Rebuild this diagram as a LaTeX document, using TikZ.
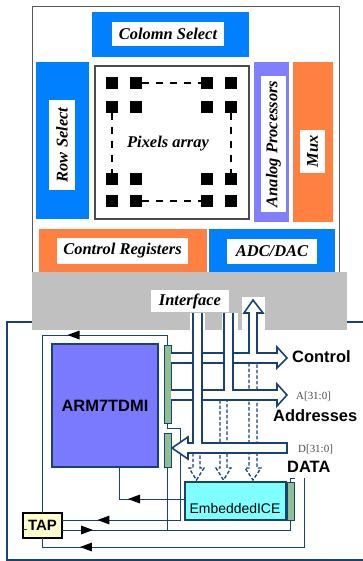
\documentclass[tikz,border=0pt]{standalone}
\usepackage{fontspec}
\setmainfont{Liberation Serif}
\setsansfont{Liberation Sans}
\usetikzlibrary{arrows.meta,decorations.markings}
\definecolor{cblue}{RGB}{0,128,255}
\definecolor{corange}{RGB}{255,128,64}
\definecolor{cpurple}{RGB}{128,128,255}
\definecolor{cgrey}{RGB}{192,192,192}
\definecolor{cnavy}{RGB}{25,66,115}
\definecolor{carm}{RGB}{122,122,255}
\definecolor{cice}{RGB}{128,255,255}
\definecolor{cscan}{RGB}{144,192,144}
\definecolor{ctap}{RGB}{255,255,204}
\tikzset{
  blk/.style={anchor=north west, inner sep=0pt, outer sep=0pt},
  lab/.style={fill=white, inner sep=0pt, outer sep=0pt, font=\fontsize{16.5}{18}\selectfont\bfseries\itshape},
  pix/.style={fill=black, minimum size=12bp, inner sep=0pt, outer sep=0pt},
  pixdash/.style={line width=2bp, dash pattern=on 7bp off 7bp},
  chip/.style={blk, draw=cnavy, line width=1.6bp},
  scan/.style={blk, draw=cnavy, fill=cscan, line width=0.8bp, minimum width=7bp},
  wire/.style={cnavy, line width=1bp},
  bus/.style={draw=cnavy, line width=1.6bp},
  dbus/.style={bus, line width=1.3bp, dash pattern=on 3.5bp off 2bp},
  arrat/.style={postaction={decorate, decoration={markings,
      mark=at position #1 with {\fill[black] (0bp,0bp) -- (-12bp,4.5bp) -- (-12bp,-4.5bp) -- cycle;}}}},
  buslab/.style={anchor=west, inner sep=0pt, font=\sffamily\bfseries\fontsize{16.5}{18}\selectfont},
  sig/.style={anchor=west, inner sep=0pt, text=black!70, font=\fontsize{11}{12}\selectfont},
}

\begin{document}
\begin{tikzpicture}[x=1bp,y=-1bp]
\useasboundingbox (0,0) rectangle (362,561);
% sensor chip
\draw[cnavy, line width=1.3bp] (366,322) -| (7,560) -- (366,560);
\draw[black!65, line width=1bp] (32,275) |- (339,7) -- (339,275);
\node[blk, fill=cblue, minimum width=157bp, minimum height=45bp] (colsel) at (92,12) {};
\node[lab, minimum width=112bp, minimum height=24bp] (colsellab) at (168,34) {Colomn Select};
\node[blk, fill=cblue, minimum width=53bp, minimum height=157bp] (rowsel) at (36,62) {};
\node[lab, rotate=90, minimum width=90bp, minimum height=26bp] (rowsellab) at (62,145) {Row Select};
\node[blk, draw=black!70, line width=1.2bp, minimum width=154bp, minimum height=153bp] (pixarr) at (95,66) {};
\foreach \px in {112,136,207,231}
  \foreach \py in {83,107,179,201}
    \node[pix] (p-\px-\py) at (\px,\py) {};
\draw[pixdash] (p-136-83) -- (p-207-83);
\draw[pixdash] (p-136-201) -- (p-207-201);
\draw[pixdash] (p-112-107) -- (p-112-179);
\draw[pixdash] (p-231-107) -- (p-231-179);
\node[lab, fill=none] (pixlab) at (168,144) {Pixels array};
\node[blk, fill=cpurple, minimum width=35bp, minimum height=160bp] (anproc) at (254,62) {};
\node[lab, rotate=90, minimum width=136bp, minimum height=25bp] (anproclab) at (273.5,144) {Analog Processors};
\node[blk, fill=corange, minimum width=40bp, minimum height=160bp] (mux) at (293,62) {};
\node[lab, rotate=90, minimum width=43bp, minimum height=25bp] (muxlab) at (312.5,151.5) {Mux};
\node[blk, fill=corange, minimum width=168bp, minimum height=43bp] (ctrlreg) at (39,229) {};
\node[lab, minimum width=131bp, minimum height=26bp] (ctrlreglab) at (122.5,251) {Control Registers};
\node[blk, fill=cblue, minimum width=126bp, minimum height=43bp] (adcdac) at (209,229) {};
\node[lab, minimum width=90bp, minimum height=25bp] (adcdaclab) at (272,251.5) {ADC/DAC};
\node[blk, fill=cgrey, minimum width=315bp, minimum height=58bp] (ifbar) at (32,272) {};
\node[lab, minimum width=78bp, minimum height=22bp] (iflab) at (190,301) {Interface};
\fill[white] (190,313) rectangle (205,331);
\fill[white] (222,313) rectangle (238,331);
\fill[white] (242,297) rectangle (265,331);
% processor side
\node[chip, fill=carm, minimum width=106bp, minimum height=123bp,
  font=\sffamily\bfseries\fontsize{16.5}{18}\selectfont] (arm) at (52,344) {ARM7TDMI};
\node[scan, minimum height=78bp] (bar1) at (164,345) {};
\node[scan, minimum height=34bp] (bar2) at (164,433) {};
\node[chip, fill=cice, minimum width=101bp, minimum height=38bp] (ice) at (185,482) {};
\node[inner sep=0pt, font=\sffamily\fontsize{14}{16}\selectfont] (icetxt) at (235,509) {EmbeddedICE};
\node[scan, minimum height=38bp] (icebar) at (287,482) {};
\node[blk, draw=black, fill=ctap, line width=1.6bp, minimum width=39bp, minimum height=25bp,
  font=\sffamily\bfseries\fontsize{15}{17}\selectfont] (tap) at (23,513) {TAP};
\coordinate (dataend) at (304,478);
\draw[wire, arrat=110bp] (bar1.north) -- ++(0,-10) -| (tap.north);
\draw[wire, arrat=57bp] (ice.west |- 0,499) -| (119,0 |- arm.south);
\draw[wire, arrat=192bp] (bar1.south) -- ++(0,5) -| (180,520) -- (tap.east |- 0,520);
\draw[wire, arrat=31bp] (tap.east |- 0,530) -| (icebar.south);
\draw[wire] (bar2.south) -- (bar2.south |- 0,530);
\draw[wire] (icebar.north) -- ++(0,-4) -- ++(4,0);
\draw[wire, arrat=293bp] (dataend) |- (tap.south |- 0,547) -- (tap.south);
\draw[wire] ([yshift=-3.5bp]tap.west) -- ++(4,0);
% buses
\foreach \xa/\xb/\ya in {193/200/453, 220/227/400, 249/257/363}
  \draw[dbus] (\xa,\ya) -- (\xa,468) -- (\xa-4,468) -- ({(\xa+\xb)/2},480) -- (\xb+4,468) -- (\xb,468) -- (\xb,\ya);
\draw[bus, fill=white] (bar1.east |- 0,353) -- (249,353) -- (249,313) -- (244,313) -- (253,300) -- (263,313)
  -- (257,313) -- (257,353) -- (277,353) -- (277,347) -- (287,358) -- (277,368) -- (277,363) -- (bar1.east |- 0,363);
\fill[white] (bar1.east |- 0,390) -- (224,390) -- (224,313) -- (233,313) -- (233,390) -- (277,390) -- (277,384)
  -- (287,395) -- (277,406) -- (277,400) -- (bar1.east |- 0,400) -- cycle;
\draw[bus] (bar1.east |- 0,390) -- (224,390) -- (224,313) (233,313) -- (233,390) -- (277,390) -- (277,384)
  -- (287,395) -- (277,406) -- (277,400) -- (bar1.east |- 0,400);
\fill[white] (193,313) -- (193,443) -- (188,443) -- (188,437) -- (172,448) -- (188,459) -- (188,453)
  -- (287,453) -- (287,443) -- (202,443) -- (202,313) -- cycle;
\draw[bus] (193,313) -- (193,443) -- (188,443) -- (188,437) -- (172,448) -- (188,459) -- (188,453)
  -- (287,453) -- (287,443) -- (202,443) -- (202,313);
\node[buslab] (ctrltxt) at (292,357) {Control};
\node[sig] (atxt) at (296,396) {A[31:0]};
\node[buslab] (addrtxt) at (273,416) {Addresses};
\node[sig] (dtxt) at (298,449) {D[31:0]};
\node[buslab] (datatxt) at (287,467) {DATA};
\end{tikzpicture}
\end{document}
